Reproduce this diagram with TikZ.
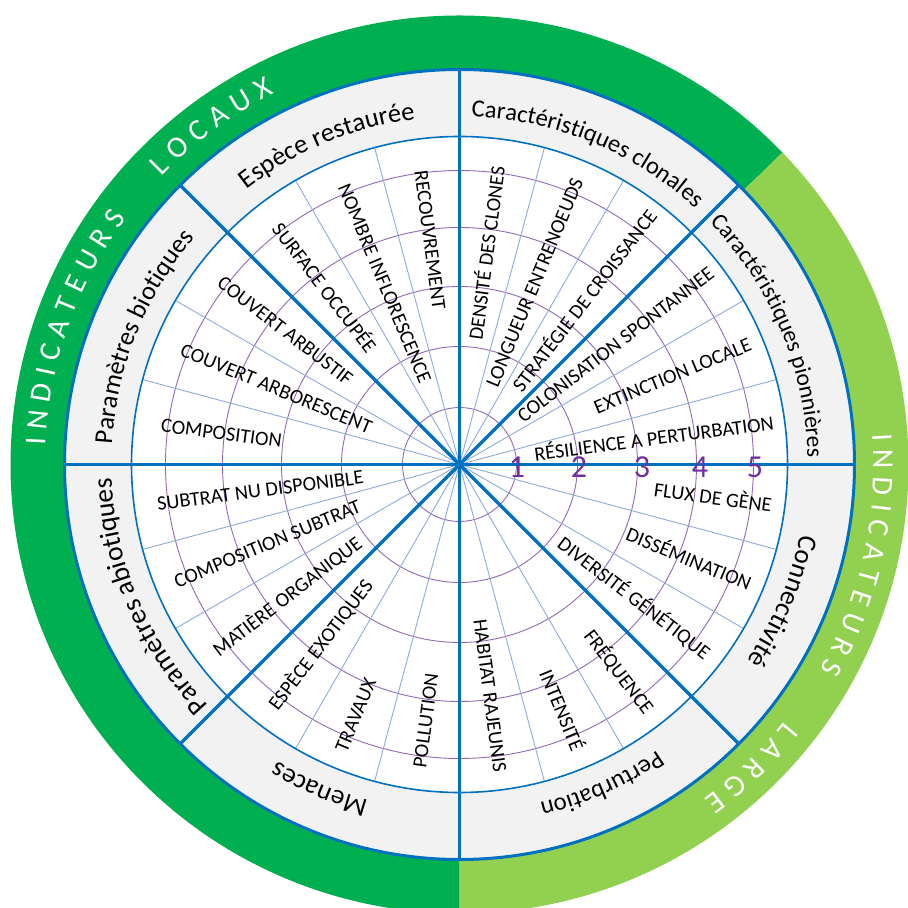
\documentclass[tikz,border=0pt]{standalone}
\usepackage{fontspec}
\setmainfont{Carlito}
\usetikzlibrary{decorations.text}
\definecolor{dkgreen}{HTML}{00B050}
\definecolor{ltgreen}{HTML}{92D050}
\definecolor{bandgray}{HTML}{F2F2F2}
\definecolor{sblue}{HTML}{0070C0}
\definecolor{thinblue}{HTML}{8FAADC}
\definecolor{circpurple}{HTML}{9268B8}
\definecolor{numpurple}{HTML}{7030A0}
\newcommand\ringfnt{\fontsize{30pt}{30pt}\selectfont}
\def\ringsz{30}
\def\catsz{26}
\newcommand\catf{\fontsize{\catsz pt}{\catsz pt}\selectfont}
\tikzset{
  ringletter/.style={text=white, inner sep=0pt, font=\ringfnt, anchor=center, text height=19.3pt, text depth=0pt},
  itemlabel/.style={inner sep=0pt, font=\fontsize{20.3pt}{20.3pt}\selectfont, text height=13pt, text depth=0pt},
  numlabel/.style={inner sep=0pt, text=numpurple, font=\fontsize{32pt}{32pt}\selectfont},
  thickline/.style={draw=sblue, line width=3.5pt},
  thinline/.style={draw=thinblue, line width=0.9pt},
  gridcircle/.style={draw=circpurple, line width=0.9pt}
}
% #1 name, #2 centre angle, #3 radius, #4 tracking, #5 list letter/width(em)
\newcommand\ringword[5]{%
  \gdef\rtotal{0}%
  \foreach \rch/\rw in {#5}{%
    \pgfmathsetmacro\rtmp{\rtotal+\rw*\ringsz+#4}%
    \global\let\rtotal\rtmp
  }%
  \pgfmathsetmacro\rstart{#2+((\rtotal-#4)/2)/#3*57.29578}%
  \global\let\rcur\rstart
  \foreach \rch/\rw [count=\ri] in {#5}{%
    \pgfmathsetmacro\rmidang{\rcur-(\rw*\ringsz/2)/#3*57.29578}%
    \node[ringletter, rotate=\rmidang-90] (#1\ri) at (\rmidang:#3pt) {\rch};
    \pgfmathsetmacro\rnext{\rcur-(\rw*\ringsz+#4)/#3*57.29578}%
    \global\let\rcur\rnext
  }%
}
\newcommand\catlabel[3]{%
  \def\catsz{#2}%
  \pgfmathsetmacro\cas{#1+45}%
  \pgfmathsetmacro\cae{#1-45}%
  \path[decorate, decoration={text along path, text align=center, text={|\catf|#3}}]
    (\cas:348pt) arc[start angle=\cas, end angle=\cae, radius=348pt];
}
\begin{document}
\begin{tikzpicture}
\useasboundingbox (0,0) rectangle (908pt,908pt);
\clip (0,0) rectangle (908pt,908pt);
\begin{scope}[shift={(459.5pt,443.5pt)}]
  % green rings
  \fill[dkgreen] (44:449pt) arc[start angle=44, end angle=270, radius=449pt]
     -- (270:395pt) arc[start angle=270, end angle=44, radius=395pt] -- cycle;
  \fill[ltgreen] (-90:449pt) arc[start angle=-90, end angle=44, radius=449pt]
     -- (44:395pt) arc[start angle=44, end angle=-90, radius=395pt] -- cycle;
  % band and disk
  \fill[bandgray] (0,0) circle[radius=395pt];
  \fill[white] (0,0) circle[radius=328pt];
  % grid circles
  \foreach \r in {57,118,178,237,294} \draw[gridcircle] (0,0) circle[radius=\r pt];
  % thin radial lines
  \foreach \a in {0,15,...,345} \draw[thinline] (0,0) -- (\a:328pt);
  % circles of disk and band
  \draw[sblue, line width=1.6pt] (0,0) circle[radius=328pt];
  \draw[sblue, line width=3pt] (0,0) circle[radius=395pt];
  % thick sector lines
  \foreach \a in {0,45,...,315} \draw[thickline] (0,0) -- (\a:395pt);
  % items, right half
  \foreach \a/\rr/\t [count=\i] in {82.5/301/DENSITÉ DES CLONES, 67.5/309/LONGUEUR ENTRENOEUDS,
      52.5/318/STRATÉGIE DE CROISSANCE, 37.5/318/COLONISATION SPONTANNEE,
      22.5/315/EXTINCTION LOCALE, 7.5/317/RÉSILIENCE A PERTURBATION,
      -7.5/315/FLUX DE GÈNE, -22.5/315/DISSÉMINATION, -37.5/313/DIVERSITÉ GÉNÉTIQUE,
      -52.5/312/FRÉQUENCE, -67.5/309/INTENSITÉ, -82.5/310/HABITAT RAJEUNIS}
    \node[itemlabel, rotate=\a, anchor=east] (itemR\i) at (\a:\rr pt) {\t};
  % items, left half
  \foreach \a/\rr/\t [count=\i] in {97.5/297/RECOUVREMENT, 112.5/303/NOMBRE INFLORESCENCE,
      127.5/301/SURFACE OCCUPÉE, 142.5/302/COUVERT ARBUSTIF, 157.5/301/COUVERT ARBORESCENT,
      172.5/301/COMPOSITION, 187.5/305/SUBTRAT NU DISPONIBLE, 202.5/308/COMPOSITION SUBTRAT,
      217.5/308/MATIÈRE ORGANIQUE, 232.5/307/ESPÈCE EXOTIQUES, 247.5/310/TRAVAUX,
      262.5/306/POLLUTION}
    \node[itemlabel, rotate=\a-180, anchor=west] (itemL\i) at (\a:\rr pt) {\t};
  % scale numbers
  \foreach \x/\n in {57.5/1, 119.5/2, 182.5/3, 240.5/4, 295.5/5}
    \node[numlabel] (num\n) at (\x pt,-2.5pt) {\n};
  % category labels
  \catlabel{112.5}{26.5}{Espèce restaurée}
  \catlabel{158}{26}{Paramètres biotiques}
  \catlabel{67.7}{24.5}{Caractéristiques clonales}
  \catlabel{22.6}{23.5}{Caractéristiques pionnières}
  \catlabel{-23}{27}{Connectivité}
  \catlabel{-66}{25}{Perturbation}
  \catlabel{246.7}{27}{Menaces}
  \catlabel{203}{27.5}{Paramètres abiotiques}
  % ring texts
  \ringword{ringA}{160.5}{424}{8.5}{I/.252,N/.646,D/.615,I/.252,C/.533,A/.579,T/.487,E/.488,U/.653,R/.543,S/.459}
  \ringword{ringB}{126.2}{424}{8.5}{L/.42,O/.662,C/.533,A/.579,U/.653,X/.519}
  \ringword{ringC}{-12.7}{424}{8.5}{I/.252,N/.646,D/.615,I/.252,C/.533,A/.579,T/.487,E/.488,U/.653,R/.543,S/.459}
  \ringword{ringD}{-46.1}{424}{8.5}{L/.42,A/.579,R/.543,G/.63,E/.488}
\end{scope}
\end{tikzpicture}
\end{document}
